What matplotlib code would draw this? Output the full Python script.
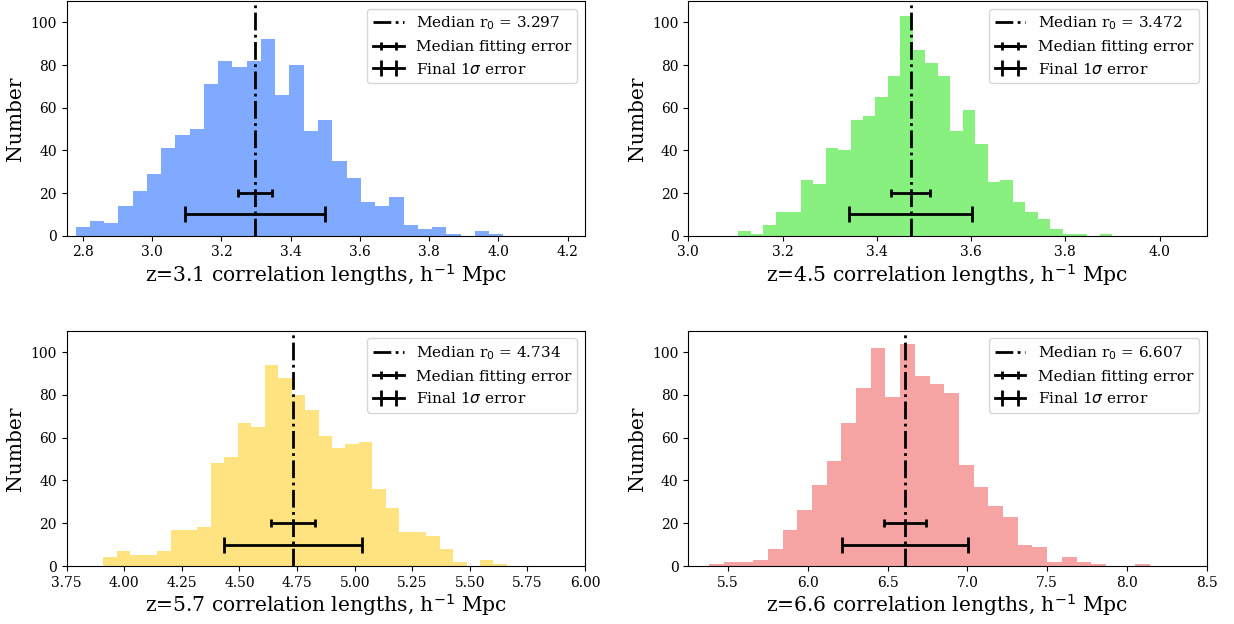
import numpy as np
import matplotlib
matplotlib.use("Agg")
import matplotlib.pyplot as plt

plt.rcParams['font.family'] = ['DejaVu Serif']
plt.rcParams['mathtext.fontset'] = 'dejavusans'

# ---- data ----
redshifts = ["3.1", "4.5", "5.7", "6.6"]

counts_z31 = [4, 7, 6, 14, 21, 29, 41, 47, 50, 71, 82, 79, 82, 92, 66, 80, 49, 54, 35, 27,
              16, 14, 18, 5, 3, 4, 1, 0, 2, 1]
counts_z45 = [2, 1, 5, 11, 11, 26, 24, 41, 40, 54, 56, 65, 75, 103, 87, 81, 75, 49, 59, 43,
              25, 26, 16, 11, 8, 3, 1, 1, 0, 1]
counts_z57 = [4, 7, 5, 5, 7, 17, 17, 18, 48, 51, 67, 65, 94, 88, 80, 73, 61, 55, 57, 58,
              36, 27, 16, 16, 14, 8, 2, 0, 3, 1]
counts_z66 = [1, 2, 2, 3, 8, 17, 26, 38, 49, 67, 83, 102, 79, 104, 89, 85, 81, 47, 37, 28,
              23, 10, 9, 2, 4, 2, 1, 0, 0, 1]

bin_range_z31 = (2.779, 4.014)
bin_range_z45 = (3.106, 3.900)
bin_range_z57 = (3.909, 5.661)
bin_range_z66 = (5.380, 8.145)

medians = [3.297, 3.472, 4.734, 6.607]
fit_err = [0.048, 0.041, 0.095, 0.131]
final_err = [0.203, 0.131, 0.300, 0.394]

xlims = [(2.753, 4.25), (3.0, 4.10), (3.75, 6.0), (5.25, 8.5)]
colors = ['#80aaff', '#88f07f', '#ffe380', '#f5a3a3']

all_counts = [counts_z31, counts_z45, counts_z57, counts_z66]
all_ranges = [bin_range_z31, bin_range_z45, bin_range_z57, bin_range_z66]

W, H = 1234, 624
fig = plt.figure(figsize=(W / 100, H / 100), dpi=100)

boxes = [(66.7, 1, 585, 235.7), (688.3, 1, 1206.7, 235.7),
         (66.7, 330.7, 585, 566), (688.3, 330.7, 1206.7, 566)]

for i in range(4):
    x0, y0, x1, y1 = boxes[i]
    ax = fig.add_axes([x0 / W, 1 - y1 / H, (x1 - x0) / W, (y1 - y0) / H])
    cnt = np.array(all_counts[i], dtype=float)
    edges = np.linspace(all_ranges[i][0], all_ranges[i][1], len(cnt) + 1)
    ax.hist(edges[:-1], bins=edges, weights=cnt, color=colors[i], histtype='stepfilled')
    m = medians[i]
    ax.axvline(m, color='k', ls='-.', lw=2, label=r'Median r$_0$ = %.3f' % m)
    ax.errorbar([m], [20], xerr=[fit_err[i]], fmt='k-', lw=2, capsize=3, capthick=2,
                label='Median fitting error')
    ax.errorbar([m], [10], xerr=[final_err[i]], fmt='k-', lw=2, capsize=6, capthick=2,
                label=r'Final 1$\sigma$ error')
    ax.set_xlim(*xlims[i])
    ax.set_ylim(0, 110)
    ax.set_yticks([0, 20, 40, 60, 80, 100])
    ax.tick_params(labelsize=10)
    ax.set_xlabel('z=%s correlation lengths, h$^{-1}$ Mpc' % redshifts[i], fontsize=14.6,
                  labelpad=2)
    ax.set_ylabel('Number', fontsize=14.6)
    ax.legend(loc='upper right', fontsize=11)

fig.savefig('out.png', dpi=100)
